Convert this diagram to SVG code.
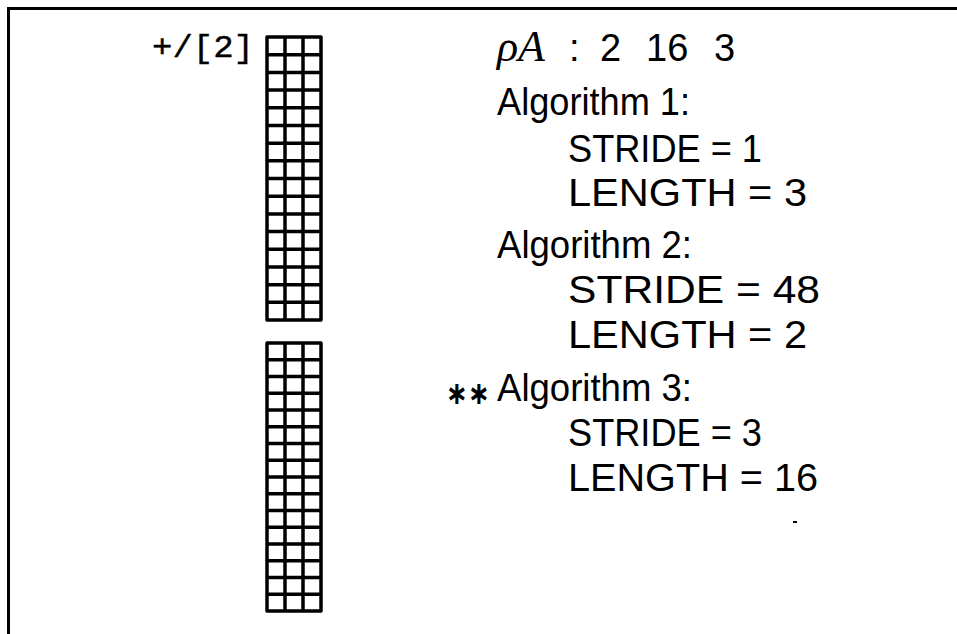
<svg xmlns="http://www.w3.org/2000/svg" width="957" height="634" viewBox="0 0 957 634">
  <style>
    .frame { fill: none; stroke: #000; stroke-width: 3; }
    .grid { fill: none; stroke: #000; stroke-width: 3.5; stroke-linejoin: round; }
    .apl { font-family: "Liberation Mono", "DejaVu Sans Mono", monospace; font-size: 32px; fill: #000; stroke: #000; stroke-width: 0.4; }
    .t { font-family: "Liberation Sans", "DejaVu Sans", sans-serif; font-size: 38px; fill: #000; }
    .it { font-family: "Liberation Serif", "DejaVu Serif", serif; font-style: italic; font-size: 44px; }
    .star { font-family: "DejaVu Sans", sans-serif; font-weight: bold; font-size: 32px; fill: #000; }
  </style>
  <rect width="957" height="634" fill="#fff"/>

  <!-- page frame (right and bottom edges run off the sheet) -->
  <path class="frame" d="M8.5,640 V8.5 H965"/>

  <!-- reduction label -->
  <text class="apl" x="152" y="57" textLength="102" lengthAdjust="spacingAndGlyphs">+/[2]</text>

  <!-- first plane of A: 16 rows x 3 columns -->
  <g id="plane1">
    <rect class="grid" x="267" y="37" width="54" height="283"/>
    <path class="grid" d="M285,37 V320 M303,37 V320
      M267,54.69 H321 M267,72.38 H321 M267,90.06 H321 M267,107.75 H321 M267,125.44 H321
      M267,143.13 H321 M267,160.81 H321 M267,178.5 H321 M267,196.19 H321 M267,213.88 H321
      M267,231.56 H321 M267,249.25 H321 M267,266.94 H321 M267,284.63 H321 M267,302.31 H321"/>
  </g>

  <!-- second plane of A: 16 rows x 3 columns -->
  <g id="plane2">
    <rect class="grid" x="267" y="343" width="54" height="268"/>
    <path class="grid" d="M285,343 V611 M303,343 V611
      M267,359.75 H321 M267,376.5 H321 M267,393.25 H321 M267,410 H321 M267,426.75 H321
      M267,443.5 H321 M267,460.25 H321 M267,477 H321 M267,493.75 H321 M267,510.5 H321
      M267,527.25 H321 M267,544 H321 M267,560.75 H321 M267,577.5 H321 M267,594.25 H321"/>
  </g>

  <!-- shape of A -->
  <g id="shape">
    <text class="t it" x="497" y="61">ρA</text>
    <text class="t" x="569" y="61" font-size="40">:</text>
    <text class="t" x="600" y="61" font-size="40">2</text>
    <text class="t" x="646" y="61" font-size="40">16</text>
    <text class="t" x="714" y="61" font-size="40">3</text>
  </g>

  <!-- algorithm parameters -->
  <g id="alg1">
    <text class="t" x="497" y="115" textLength="193" lengthAdjust="spacingAndGlyphs">Algorithm 1:</text>
    <text class="t" x="568" y="162" textLength="194" lengthAdjust="spacingAndGlyphs">STRIDE = 1</text>
    <text class="t" x="568" y="206" textLength="239" lengthAdjust="spacingAndGlyphs">LENGTH = 3</text>
  </g>
  <g id="alg2">
    <text class="t" x="497" y="258" textLength="195" lengthAdjust="spacingAndGlyphs">Algorithm 2:</text>
    <text class="t" x="568" y="303" textLength="252" lengthAdjust="spacingAndGlyphs">STRIDE = 48</text>
    <text class="t" x="568" y="348" textLength="239" lengthAdjust="spacingAndGlyphs">LENGTH = 2</text>
  </g>
  <g id="alg3">
    <text class="star" x="446" y="404" textLength="44" lengthAdjust="spacingAndGlyphs">∗∗</text>
    <text class="t" x="497" y="401" textLength="195" lengthAdjust="spacingAndGlyphs">Algorithm 3:</text>
    <text class="t" x="568" y="446" textLength="194" lengthAdjust="spacingAndGlyphs">STRIDE = 3</text>
    <text class="t" x="568" y="491" textLength="250" lengthAdjust="spacingAndGlyphs">LENGTH = 16</text>
  </g>
  <rect x="793" y="521" width="4" height="2" fill="#000"/>
</svg>
